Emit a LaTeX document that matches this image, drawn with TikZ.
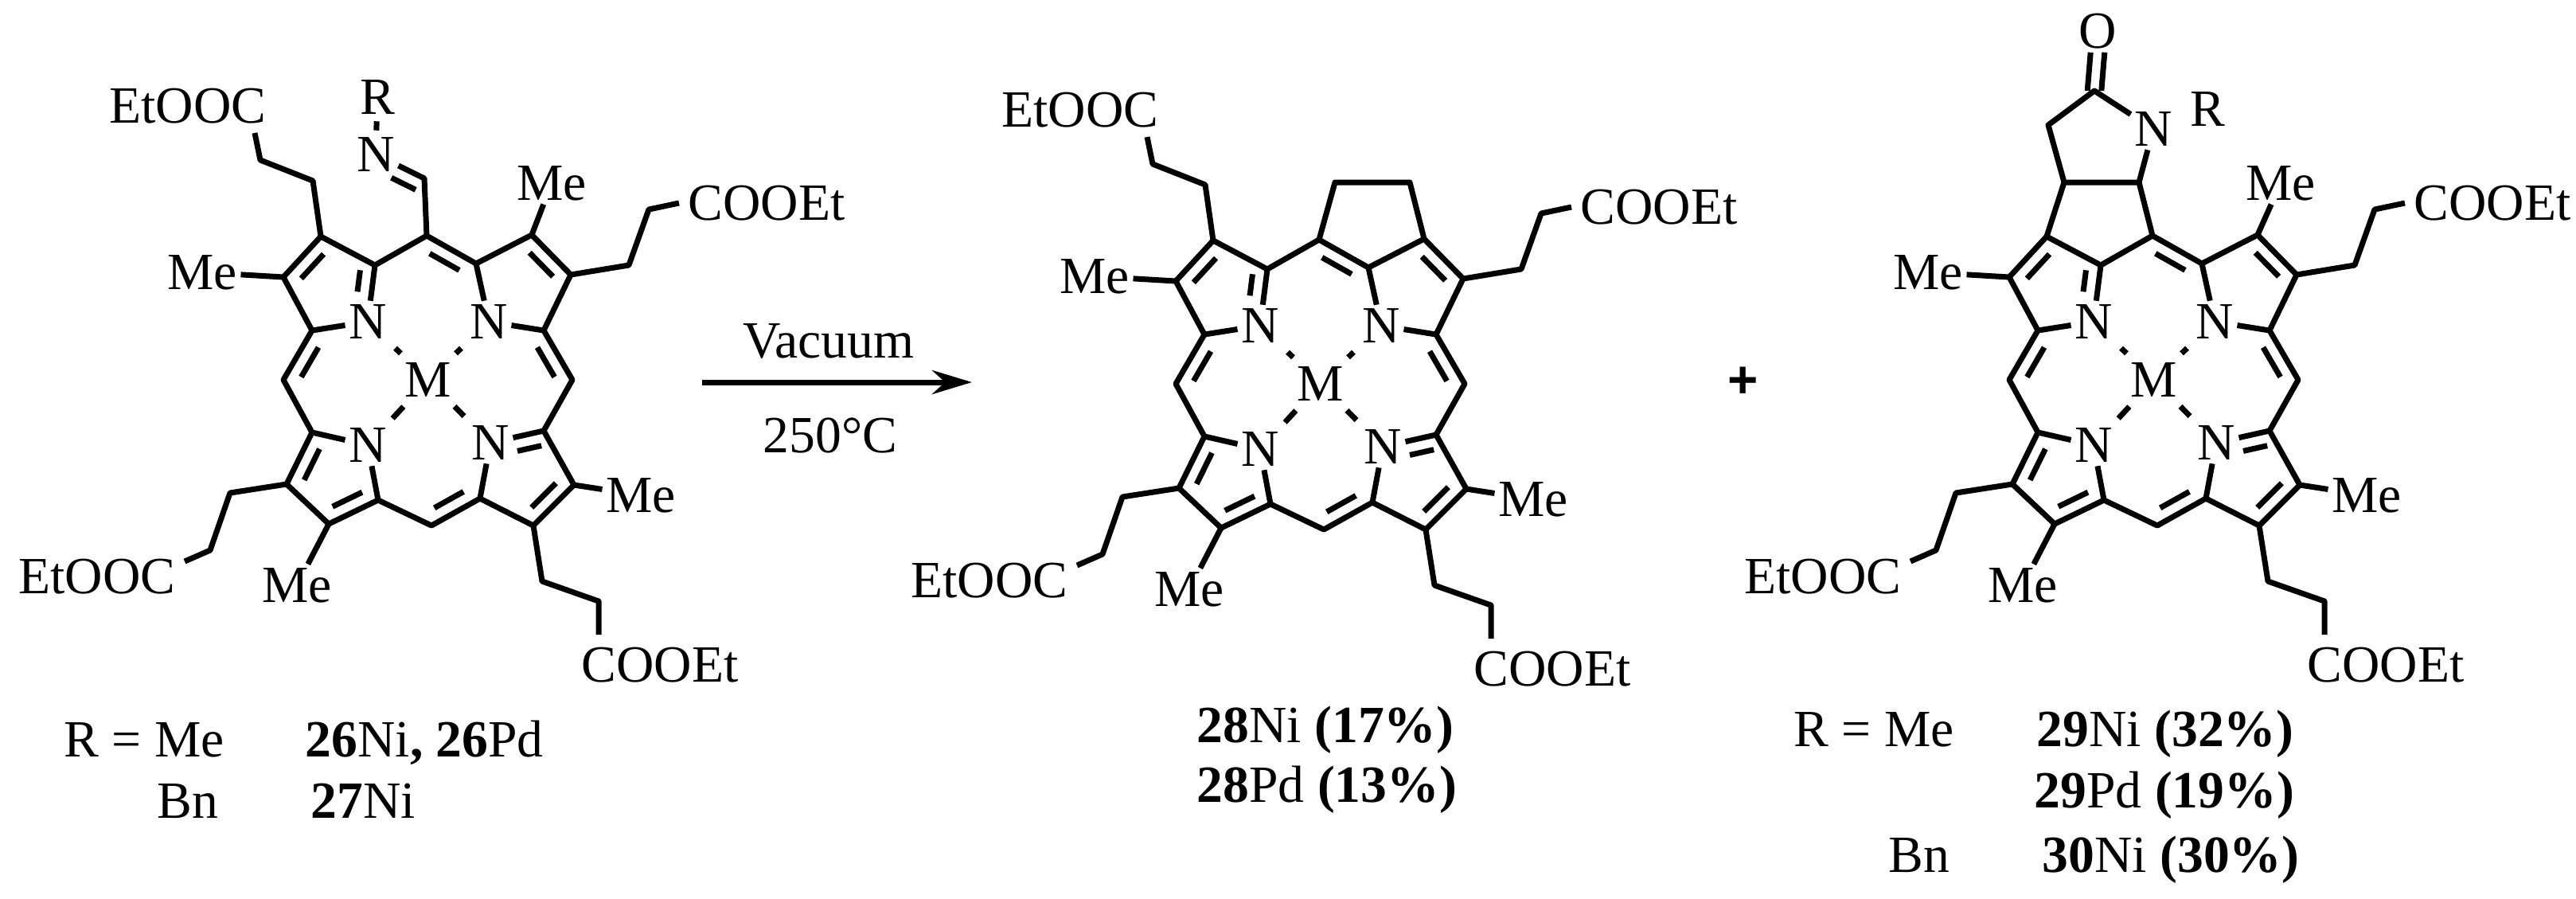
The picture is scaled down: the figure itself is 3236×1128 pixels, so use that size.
\documentclass[tikz,border=0pt]{standalone}
\usepackage{fontspec}
\setmainfont{Liberation Serif}
\setsansfont{Liberation Sans}
\usetikzlibrary{calc,arrows.meta}
\tikzset{
  every node/.style={font=\fontsize{16.4}{18}\selectfont},
  atom/.style={inner sep=1pt},
  caption/.style={anchor=base west,inner sep=0pt},
  bond/.style={line width=1.75pt,line join=round},
  metal/.style={bond,shorten >=2.5pt,shorten <=2.5pt}
}
% second line of a double bond, on the left of #1 -> #2
\newcommand{\dblpart}[4]{\draw[bond] ($(#1)!#3!(#2)!4.4pt!90:(#2)$) -- ($(#1)!#4!(#2)!4.4pt!90:(#2)$);}
\newcommand{\dbl}[2]{\dblpart{#1}{#2}{.2}{.8}}
% the ring with its lower and right side chains, M at the origin of the scope
\newcommand{\porphyrin}[1]{
  \node[atom] (#1M) at (0,0) {M};
  \node[atom] (#1N1) at (-76,-73) {N};
  \node[atom] (#1N2) at (76,-73) {N};
  \node[atom] (#1N3) at (-76,82) {N};
  \node[atom] (#1N4) at (78,79) {N};
  \coordinate (#1a) at (-2,-181);
  \coordinate (#1b) at (-67,-144);
  \coordinate (#1c) at (-135,-180);
  \coordinate (#1d) at (-182,-129);
  \coordinate (#1e) at (-146,-62);
  \coordinate (#1f) at (-182,0);
  \coordinate (#1g) at (-146,66);
  \coordinate (#1h) at (-178,131);
  \coordinate (#1i) at (-125,181);
  \coordinate (#1j) at (-63,151);
  \coordinate (#1k) at (4,183);
  \coordinate (#1l) at (65,149);
  \coordinate (#1m) at (132,183);
  \coordinate (#1n) at (183,132);
  \coordinate (#1o) at (145,64);
  \coordinate (#1p) at (181,0);
  \coordinate (#1q) at (145,-62);
  \coordinate (#1r) at (179,-132);
  \coordinate (#1s) at (130,-182);
  \coordinate (#1t) at (60,-146);
  \draw[bond] (#1N1) -- (#1b) -- (#1c) -- (#1d) -- (#1e) -- (#1N1);
  \draw[bond] (#1e) -- (#1f) -- (#1g) -- (#1N3);
  \draw[bond] (#1g) -- (#1h) -- (#1i) -- (#1j) -- (#1N3);
  \draw[bond] (#1j) -- (#1k) -- (#1l) -- (#1N4);
  \draw[bond] (#1l) -- (#1m) -- (#1n) -- (#1o) -- (#1N4);
  \draw[bond] (#1o) -- (#1p) -- (#1q) -- (#1N2);
  \draw[bond] (#1q) -- (#1r) -- (#1s) -- (#1t) -- (#1N2);
  \draw[bond] (#1b) -- (#1a) -- (#1t);
  \dbl{#1c}{#1d} \dbl{#1e}{#1f} \dbl{#1g}{#1h} \dbl{#1i}{#1j}
  \dbl{#1k}{#1l} \dbl{#1m}{#1n} \dbl{#1p}{#1q} \dbl{#1r}{#1s} \dbl{#1t}{#1a}
  \dblpart{#1N1}{#1b}{.5}{.88}
  \dblpart{#1o}{#1N4}{.1}{.55}
  \draw[metal] (#1M) -- (#1N1);
  \draw[metal] (#1M) -- (#1N2);
  \draw[metal] (#1M) -- (#1N3);
  \draw[metal] (#1M) -- (#1N4);
  % Me groups
  \node[atom] (#1Me1) at (-284,-135) {Me};
  \node[atom] (#1Me2) at (-165,258) {Me};
  \node[atom] (#1Me3) at (267,145) {Me};
  \draw[bond] (#1d) -- (#1Me1);
  \draw[bond] (#1i) -- (#1Me2);
  \draw[bond] (#1n) -- (#1Me3);
  % side chains
  \node[atom] (#1E1) at (425,-222) {COOEt};
  \coordinate (#1E1a) at (252,-144);
  \coordinate (#1E1b) at (277,-214);
  \coordinate (#1E1c) at (315,-222);
  \draw[bond] (#1r) -- (#1E1a) -- (#1E1b) -- (#1E1c);
  \node[atom] (#1E2) at (-416,247) {EtOOC};
  \coordinate (#1E2a) at (-249,142);
  \coordinate (#1E2b) at (-274,214);
  \coordinate (#1E2c) at (-306,228);
  \draw[bond] (#1h) -- (#1E2a) -- (#1E2b) -- (#1E2c);
  \node[atom] (#1E3) at (291,358) {COOEt};
  \coordinate (#1E3a) at (143,253);
  \coordinate (#1E3b) at (214,278);
  \coordinate (#1E3c) at (214,320);
  \draw[bond] (#1m) -- (#1E3a) -- (#1E3b) -- (#1E3c);
}
% the EtOOC chain on the upper left ring
\newcommand{\topchain}[1]{
  \node[atom] (#1E4) at (-302,-344) {EtOOC};
  \coordinate (#1E4a) at (-145,-250);
  \coordinate (#1E4b) at (-211,-276);
  \coordinate (#1E4c) at (-218,-310);
  \draw[bond] (#1c) -- (#1E4a) -- (#1E4b) -- (#1E4c);
}
\begin{document}
\begin{tikzpicture}[x=0.25pt,y=-0.25pt]
  \useasboundingbox (0,0) rectangle (3236,1128);
  % starting material
  \begin{scope}[shift={(538,477)}]
    \porphyrin{A}
    \topchain{A}
    \node[atom] (AMe4) at (155,-247) {Me};
    \draw[bond] (As) -- (AMe4);
    \coordinate (Aim) at (-5,-253);
    \node[atom] (AimN) at (-66,-283) {N};
    \node[atom] (AR) at (-64,-355) {R};
    \draw[bond] (Aa) -- (Aim) -- (AimN);
    \draw[bond,shorten >=1pt,shorten <=1pt] (AimN) -- (AR);
    \dblpart{Aim}{AimN}{.05}{.55}
  \end{scope}
  % arrow
  \coordinate (arrL) at (882,480);
  \coordinate (arrR) at (1221,480);
  \draw[bond,-{Stealth[length=12.5pt,width=7.5pt]}] (arrL) -- (arrR);
  \node (vac) at (1041,428) {Vacuum};
  \node (temp) at (1043,547) {250°C};
  % first product
  \begin{scope}[shift={(1659,482)}]
    \porphyrin{B}
    \topchain{B}
    \coordinate (Bu1) at (18,-253);
    \coordinate (Bu2) at (112,-253);
    \draw[bond] (Ba) -- (Bu1) -- (Bu2) -- (Bs);
  \end{scope}
  \node[font=\fontsize{16.4}{18}\selectfont\sffamily\bfseries] (plus) at (2190,480) {+};
  % second product
  \begin{scope}[shift={(2706,477)}]
    \porphyrin{C}
    \node[atom] (CMe4) at (159,-247) {Me};
    \draw[bond] (Cs) -- (CMe4);
    \coordinate (Cu1) at (-113,-248);
    \coordinate (Cu2) at (-19,-248);
    \coordinate (Cu3) at (-133,-320);
    \coordinate (Cu4) at (-75,-363);
    \node[atom] (CO) at (-71,-438) {O};
    \node[atom] (CN) at (-1,-315) {N};
    \node[atom] (CR) at (67,-340) {R};
    \draw[bond] (Cc) -- (Cu1) -- (Cu2) -- (Ca);
    \draw[bond] (Cu1) -- (Cu3) -- (Cu4) -- (CN) -- (Cu2);
    \draw[bond] ([xshift=-2.2pt]CO.south) -- ([xshift=-2.2pt]Cu4);
    \draw[bond] ([xshift=2.2pt]CO.south) -- ([xshift=2.2pt]Cu4);
  \end{scope}
  % captions
  \node[caption] (capA1) at (80,950) {R = Me};
  \node[caption] (capA2) at (383,950) {\textbf{26}Ni\textbf{, 26}Pd};
  \node[caption] (capA3) at (197,1027) {Bn};
  \node[caption] (capA4) at (390,1027) {\textbf{27}Ni};
  \node[caption] (capB1) at (1503,932) {\textbf{28}Ni \textbf{(17\%)}};
  \node[caption] (capB2) at (1503,1007) {\textbf{28}Pd \textbf{(13\%)}};
  \node[caption] (capC1) at (2253,937) {R = Me};
  \node[caption] (capC2) at (2558,937) {\textbf{29}Ni \textbf{(32\%)}};
  \node[caption] (capC3) at (2555,1014) {\textbf{29}Pd \textbf{(19\%)}};
  \node[caption] (capC4) at (2372,1095) {Bn};
  \node[caption] (capC5) at (2565,1095) {\textbf{30}Ni \textbf{(30\%)}};
\end{tikzpicture}
\end{document}
